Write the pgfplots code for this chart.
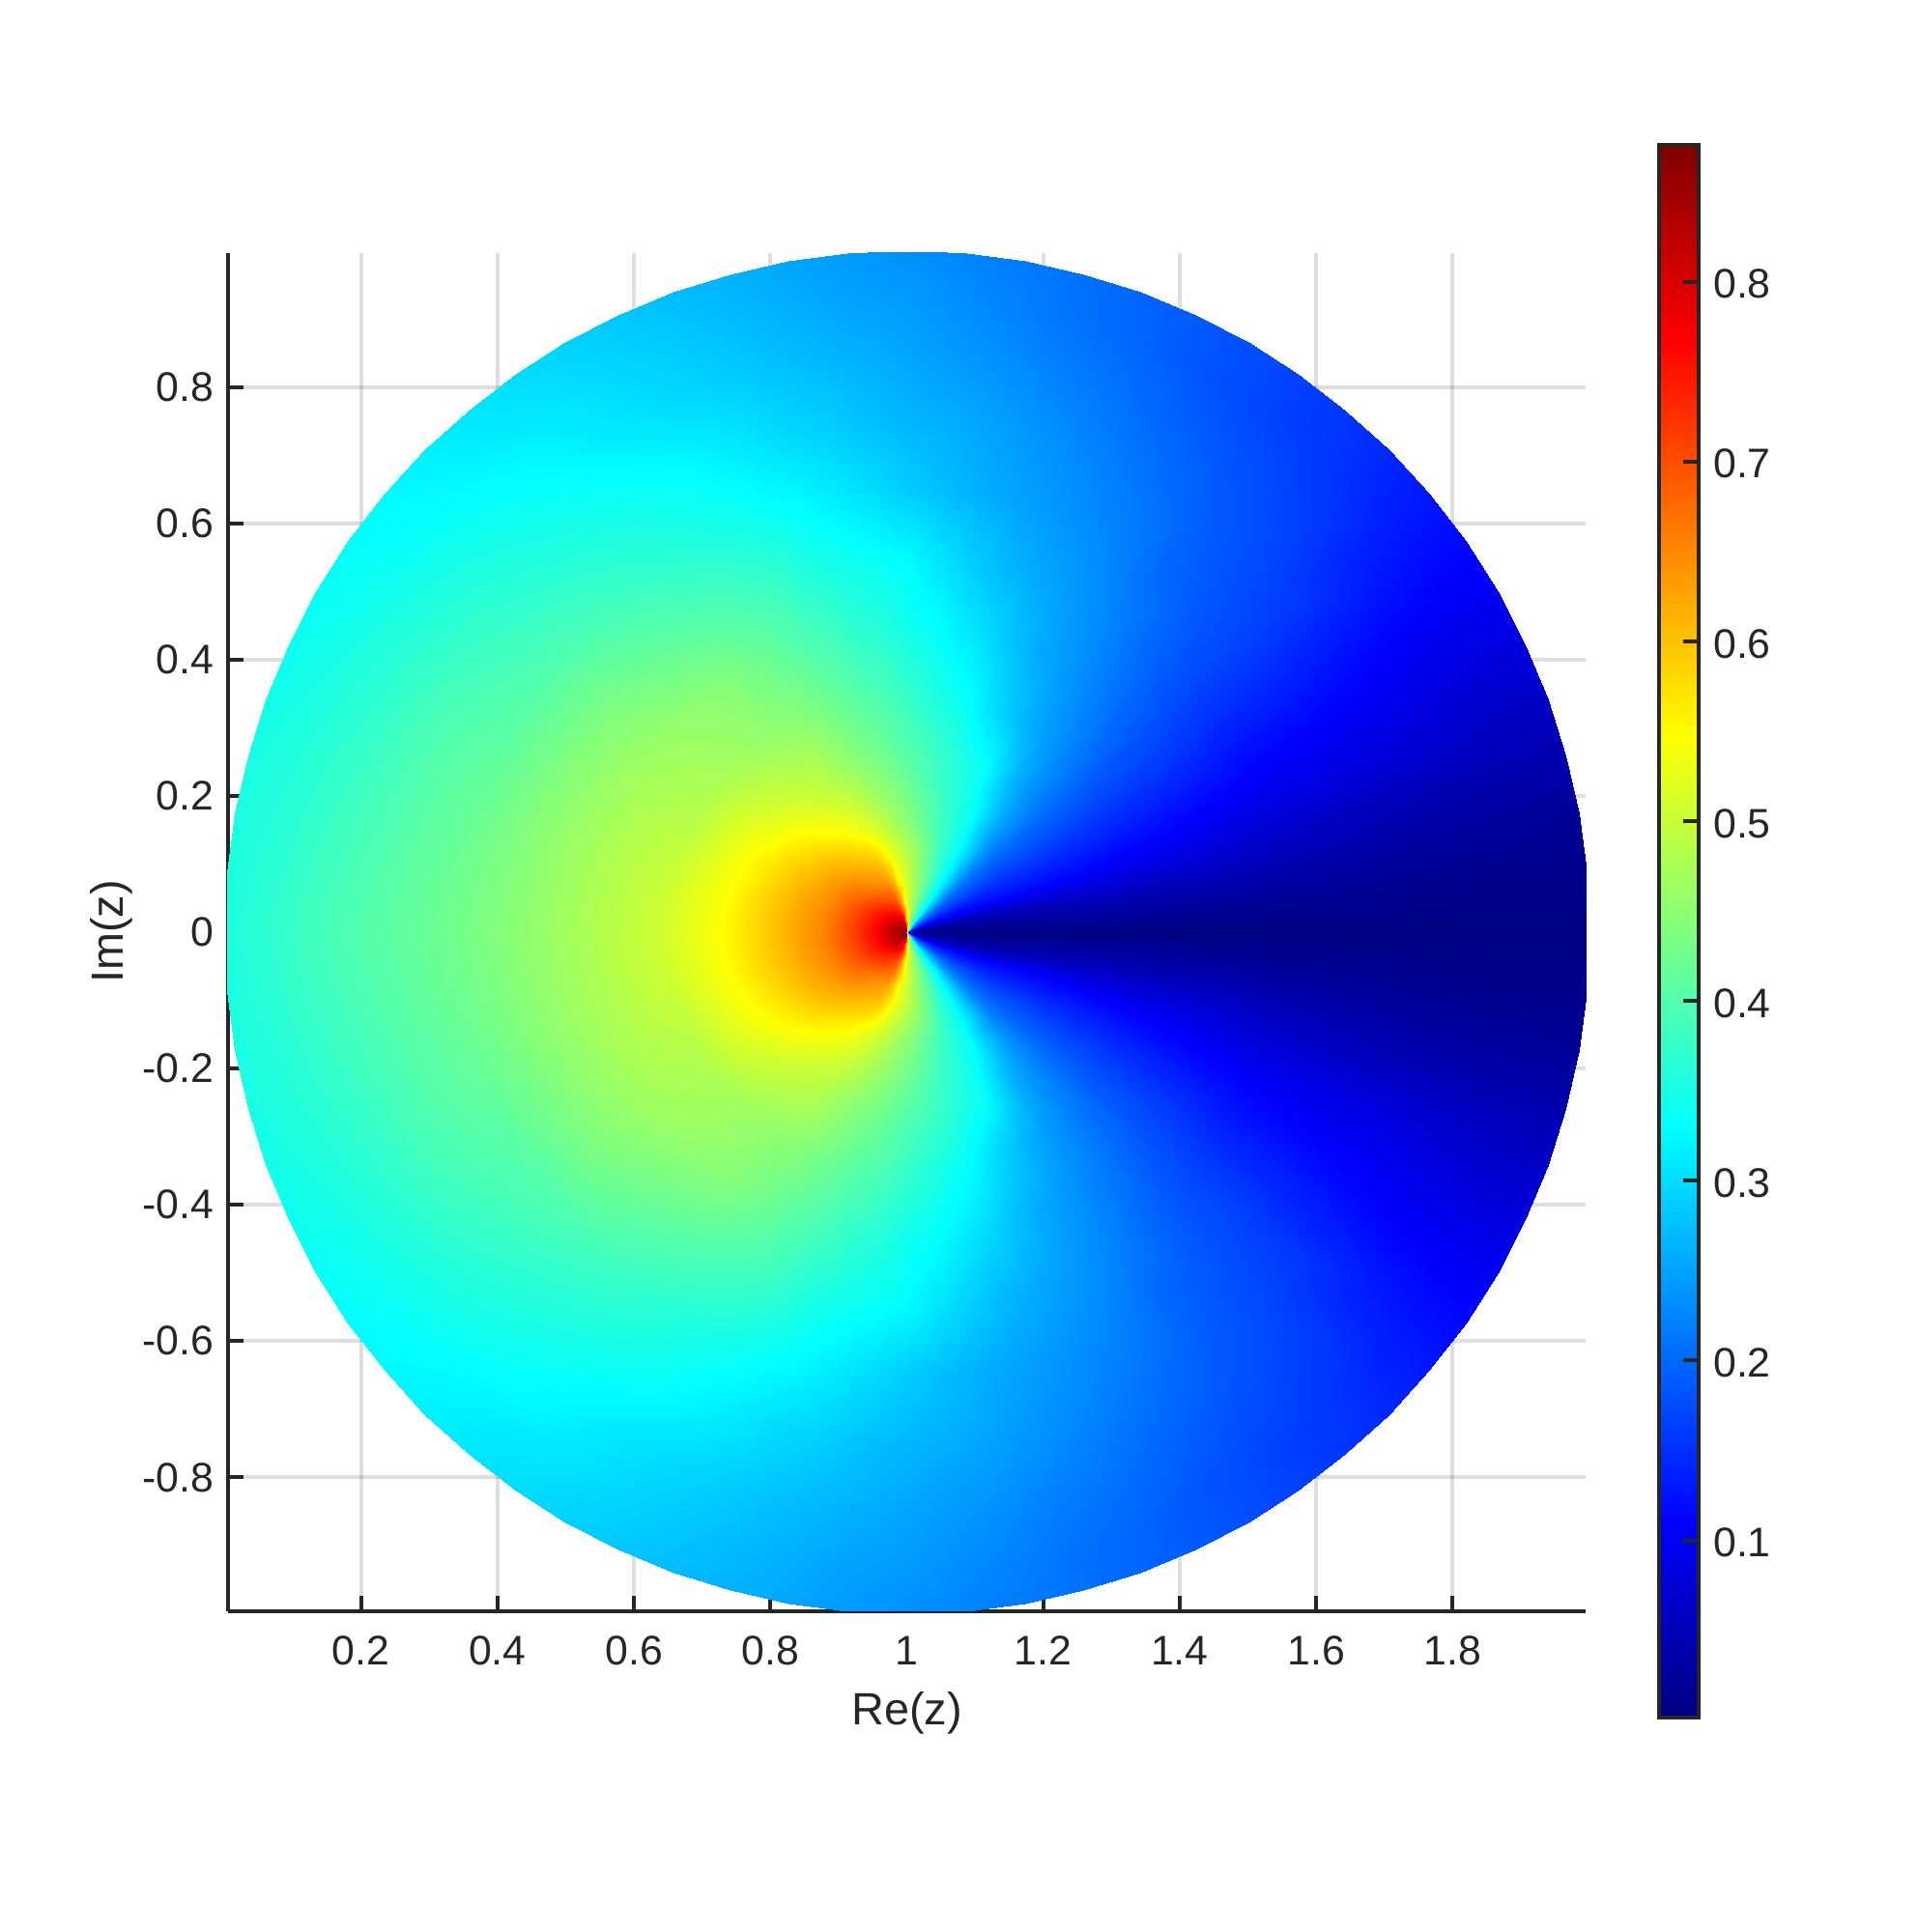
\documentclass[border=0pt]{standalone}
\usepackage{fontspec}
\setmainfont{Liberation Sans}
\usepackage{pgfplots}
\usepackage{pgfplotstable}
\pgfplotsset{compat=1.18}
\definecolor{axdark}{RGB}{38,38,38}
% values: angle about z=1, radius, colour value (upper half)
\pgfplotstableread[row sep=\\]{
t r v\\
0 .002 .002\\5 .002 .02\\10 .002 .037\\15 .002 .055\\20 .002 .083\\25 .002 .11\\30 .002 .141\\35 .002 .173\\40 .002 .207\\45 .002 .245\\50 .002 .29\\55 .002 .337\\60 .002 .375\\65 .002 .405\\70 .002 .43\\75 .002 .455\\80 .002 .48\\85 .002 .51\\90 .002 .548\\95 .002 .80\\100 .002 .835\\105 .002 .847\\110 .002 .853\\115 .002 .855\\120 .002 .856\\125 .002 .858\\130 .002 .859\\135 .002 .86\\140 .002 .861\\145 .002 .862\\150 .002 .863\\155 .002 .863\\160 .002 .864\\165 .002 .864\\170 .002 .864\\175 .002 .864\\180 .002 .864\\
0 .02 .002\\5 .02 .02\\10 .02 .037\\15 .02 .055\\20 .02 .086\\25 .02 .116\\30 .02 .145\\35 .02 .176\\40 .02 .207\\45 .02 .243\\50 .02 .28\\55 .02 .333\\60 .02 .37\\65 .02 .40\\70 .02 .425\\75 .02 .45\\80 .02 .475\\85 .02 .50\\90 .02 .535\\95 .02 .65\\100 .02 .73\\105 .02 .76\\110 .02 .78\\115 .02 .79\\120 .02 .79\\125 .02 .80\\130 .02 .81\\135 .02 .81\\140 .02 .815\\145 .02 .82\\150 .02 .82\\155 .02 .823\\160 .02 .824\\165 .02 .825\\170 .02 .826\\175 .02 .827\\180 .02 .827\\
0 .045 .002\\5 .045 .02\\10 .045 .038\\15 .045 .06\\20 .045 .093\\25 .045 .123\\30 .045 .15\\35 .045 .177\\40 .045 .206\\45 .045 .255\\50 .045 .29\\55 .045 .329\\60 .045 .36\\65 .045 .392\\70 .045 .42\\75 .045 .445\\80 .045 .467\\85 .045 .49\\90 .045 .52\\95 .045 .545\\100 .045 .632\\105 .045 .67\\110 .045 .70\\115 .045 .71\\120 .045 .72\\125 .045 .727\\130 .045 .737\\135 .045 .74\\140 .045 .747\\145 .045 .752\\150 .045 .757\\155 .045 .76\\160 .045 .76\\165 .045 .763\\170 .045 .764\\175 .045 .765\\180 .045 .765\\
0 .08 .002\\5 .08 .02\\10 .08 .038\\15 .08 .063\\20 .08 .105\\25 .08 .13\\30 .08 .153\\35 .08 .18\\40 .08 .20\\45 .08 .245\\50 .08 .286\\55 .08 .325\\60 .08 .354\\65 .08 .384\\70 .08 .41\\75 .08 .435\\80 .08 .458\\85 .08 .478\\90 .08 .503\\95 .08 .525\\100 .08 .548\\105 .08 .602\\110 .08 .63\\115 .08 .641\\120 .08 .647\\125 .08 .654\\130 .08 .662\\135 .08 .672\\140 .08 .682\\145 .08 .69\\150 .08 .696\\155 .08 .70\\160 .08 .703\\165 .08 .706\\170 .08 .708\\175 .08 .71\\180 .08 .71\\
0 .12 .002\\5 .12 .02\\10 .12 .04\\15 .12 .07\\20 .12 .112\\25 .12 .135\\30 .12 .155\\35 .12 .18\\40 .12 .203\\45 .12 .235\\50 .12 .277\\55 .12 .314\\60 .12 .345\\65 .12 .368\\70 .12 .393\\75 .12 .42\\80 .12 .445\\85 .12 .465\\90 .12 .483\\95 .12 .503\\100 .12 .522\\105 .12 .546\\110 .12 .574\\115 .12 .59\\120 .12 .60\\125 .12 .609\\130 .12 .618\\135 .12 .626\\140 .12 .634\\145 .12 .64\\150 .12 .645\\155 .12 .648\\160 .12 .65\\165 .12 .652\\170 .12 .654\\175 .12 .655\\180 .12 .655\\
0 .14 .002\\5 .14 .021\\10 .14 .042\\15 .14 .075\\20 .14 .115\\25 .14 .136\\30 .14 .156\\35 .14 .18\\40 .14 .20\\45 .14 .231\\50 .14 .273\\55 .14 .31\\60 .14 .341\\65 .14 .362\\70 .14 .384\\75 .14 .407\\80 .14 .428\\85 .14 .447\\90 .14 .465\\95 .14 .483\\100 .14 .503\\105 .14 .525\\110 .14 .548\\115 .14 .566\\120 .14 .576\\125 .14 .588\\130 .14 .597\\135 .14 .607\\140 .14 .614\\145 .14 .622\\150 .14 .628\\155 .14 .633\\160 .14 .635\\165 .14 .638\\170 .14 .64\\175 .14 .641\\180 .14 .641\\
0 .16 .002\\5 .16 .023\\10 .16 .044\\15 .16 .08\\20 .16 .118\\25 .16 .137\\30 .16 .157\\35 .16 .18\\40 .16 .20\\45 .16 .228\\50 .16 .27\\55 .16 .307\\60 .16 .337\\65 .16 .355\\70 .16 .375\\75 .16 .394\\80 .16 .412\\85 .16 .43\\90 .16 .448\\95 .16 .463\\100 .16 .485\\105 .16 .503\\110 .16 .52\\115 .16 .537\\120 .16 .553\\125 .16 .567\\130 .16 .578\\135 .16 .588\\140 .16 .597\\145 .16 .604\\150 .16 .612\\155 .16 .617\\160 .16 .619\\165 .16 .622\\170 .16 .625\\175 .16 .626\\180 .16 .626\\
0 .18 .002\\5 .18 .024\\10 .18 .045\\15 .18 .083\\20 .18 .119\\25 .18 .139\\30 .18 .159\\35 .18 .18\\40 .18 .20\\45 .18 .225\\50 .18 .254\\55 .18 .294\\60 .18 .333\\65 .18 .35\\70 .18 .366\\75 .18 .385\\80 .18 .404\\85 .18 .422\\90 .18 .439\\95 .18 .455\\100 .18 .473\\105 .18 .49\\110 .18 .507\\115 .18 .525\\120 .18 .534\\125 .18 .545\\130 .18 .558\\135 .18 .57\\140 .18 .58\\145 .18 .588\\150 .18 .596\\155 .18 .60\\160 .18 .603\\165 .18 .607\\170 .18 .609\\175 .18 .611\\180 .18 .612\\
0 .2 .002\\5 .2 .025\\10 .2 .046\\15 .2 .085\\20 .2 .12\\25 .2 .14\\30 .2 .16\\35 .2 .181\\40 .2 .20\\45 .2 .228\\50 .2 .258\\55 .2 .292\\60 .2 .329\\65 .2 .346\\70 .2 .363\\75 .2 .38\\80 .2 .395\\85 .2 .413\\90 .2 .43\\95 .2 .447\\100 .2 .46\\105 .2 .477\\110 .2 .494\\115 .2 .507\\120 .2 .52\\125 .2 .53\\130 .2 .54\\135 .2 .552\\140 .2 .562\\145 .2 .572\\150 .2 .581\\155 .2 .586\\160 .2 .589\\165 .2 .593\\170 .2 .595\\175 .2 .597\\180 .2 .597\\
0 .235 .002\\5 .235 .026\\10 .235 .048\\15 .235 .085\\20 .235 .118\\25 .235 .139\\30 .235 .158\\35 .235 .18\\40 .235 .198\\45 .235 .224\\50 .235 .25\\55 .235 .278\\60 .235 .31\\65 .235 .34\\70 .235 .355\\75 .235 .37\\80 .235 .385\\85 .235 .40\\90 .235 .415\\95 .235 .43\\100 .235 .445\\105 .235 .458\\110 .235 .474\\115 .235 .488\\120 .235 .497\\125 .235 .506\\130 .235 .517\\135 .235 .528\\140 .235 .537\\145 .235 .545\\150 .235 .554\\155 .235 .56\\160 .235 .563\\165 .235 .568\\170 .235 .571\\175 .235 .573\\180 .235 .573\\
0 .27 .002\\5 .27 .027\\10 .27 .05\\15 .27 .085\\20 .27 .117\\25 .27 .138\\30 .27 .157\\35 .27 .178\\40 .27 .197\\45 .27 .22\\50 .27 .241\\55 .27 .265\\60 .27 .30\\65 .27 .333\\70 .27 .348\\75 .27 .361\\80 .27 .375\\85 .27 .389\\90 .27 .40\\95 .27 .414\\100 .27 .43\\105 .27 .44\\110 .27 .455\\115 .27 .47\\120 .27 .485\\125 .27 .49\\130 .27 .497\\135 .27 .505\\140 .27 .515\\145 .27 .525\\150 .27 .533\\155 .27 .538\\160 .27 .541\\165 .27 .544\\170 .27 .547\\175 .27 .548\\180 .27 .549\\
0 .35 .002\\5 .35 .026\\10 .35 .05\\15 .35 .08\\20 .35 .11\\25 .35 .132\\30 .35 .152\\35 .35 .172\\40 .35 .19\\45 .35 .212\\50 .35 .23\\55 .35 .246\\60 .35 .263\\65 .35 .285\\70 .35 .307\\75 .35 .332\\80 .35 .346\\85 .35 .36\\90 .35 .375\\95 .35 .392\\100 .35 .402\\105 .35 .415\\110 .35 .428\\115 .35 .442\\120 .35 .45\\125 .35 .456\\130 .35 .462\\135 .35 .468\\140 .35 .475\\145 .35 .48\\150 .35 .485\\155 .35 .49\\160 .35 .497\\165 .35 .503\\170 .35 .507\\175 .35 .51\\180 .35 .51\\
0 .45 .002\\5 .45 .022\\10 .45 .05\\15 .45 .08\\20 .45 .103\\25 .45 .124\\30 .45 .144\\35 .45 .164\\40 .45 .18\\45 .45 .197\\50 .45 .215\\55 .45 .23\\60 .45 .245\\65 .45 .258\\70 .45 .278\\75 .45 .30\\80 .45 .315\\85 .45 .333\\90 .45 .343\\95 .45 .36\\100 .45 .37\\105 .45 .387\\110 .45 .40\\115 .45 .415\\120 .45 .428\\125 .45 .442\\130 .45 .449\\135 .45 .454\\140 .45 .46\\145 .45 .465\\150 .45 .47\\155 .45 .473\\160 .45 .476\\165 .45 .478\\170 .45 .48\\175 .45 .481\\180 .45 .482\\
0 .55 .002\\5 .55 .02\\10 .55 .042\\15 .55 .066\\20 .55 .09\\25 .55 .113\\30 .55 .13\\35 .55 .15\\40 .55 .168\\45 .55 .184\\50 .55 .20\\55 .55 .218\\60 .55 .232\\65 .55 .245\\70 .55 .257\\75 .55 .27\\80 .55 .288\\85 .55 .307\\90 .55 .326\\95 .55 .335\\100 .55 .345\\105 .55 .355\\110 .55 .373\\115 .55 .385\\120 .55 .395\\125 .55 .403\\130 .55 .412\\135 .55 .42\\140 .55 .43\\145 .55 .438\\150 .55 .441\\155 .55 .444\\160 .55 .447\\165 .55 .45\\170 .55 .451\\175 .55 .453\\180 .55 .454\\
0 .65 .002\\5 .65 .018\\10 .65 .038\\15 .65 .058\\20 .65 .085\\25 .65 .105\\30 .65 .125\\35 .65 .145\\40 .65 .165\\45 .65 .178\\50 .65 .19\\55 .65 .20\\60 .65 .218\\65 .65 .23\\70 .65 .24\\75 .65 .25\\80 .65 .26\\85 .65 .272\\90 .65 .285\\95 .65 .30\\100 .65 .314\\105 .65 .329\\110 .65 .34\\115 .65 .35\\120 .65 .36\\125 .65 .37\\130 .65 .38\\135 .65 .388\\140 .65 .395\\145 .65 .40\\150 .65 .405\\155 .65 .41\\160 .65 .415\\165 .65 .42\\170 .65 .424\\175 .65 .427\\180 .65 .43\\
0 .75 .002\\5 .75 .013\\10 .75 .03\\15 .75 .05\\20 .75 .078\\25 .75 .098\\30 .75 .116\\35 .75 .135\\40 .75 .158\\45 .75 .17\\50 .75 .182\\55 .75 .193\\60 .75 .205\\65 .75 .216\\70 .75 .227\\75 .75 .238\\80 .75 .25\\85 .75 .26\\90 .75 .267\\95 .75 .277\\100 .75 .29\\105 .75 .30\\110 .75 .314\\115 .75 .326\\120 .75 .337\\125 .75 .346\\130 .75 .355\\135 .75 .362\\140 .75 .37\\145 .75 .378\\150 .75 .386\\155 .75 .393\\160 .75 .398\\165 .75 .40\\170 .75 .404\\175 .75 .407\\180 .75 .41\\
0 .85 .002\\5 .85 .01\\10 .85 .026\\15 .85 .045\\20 .85 .068\\25 .85 .087\\30 .85 .104\\35 .85 .125\\40 .85 .14\\45 .85 .16\\50 .85 .17\\55 .85 .18\\60 .85 .19\\65 .85 .20\\70 .85 .212\\75 .85 .222\\80 .85 .233\\85 .85 .243\\90 .85 .253\\95 .85 .262\\100 .85 .271\\105 .85 .281\\110 .85 .291\\115 .85 .30\\120 .85 .31\\125 .85 .322\\130 .85 .333\\135 .85 .342\\140 .85 .35\\145 .85 .356\\150 .85 .362\\155 .85 .367\\160 .85 .372\\165 .85 .377\\170 .85 .381\\175 .85 .386\\180 .85 .39\\
0 .93 .002\\5 .93 .009\\10 .93 .024\\15 .93 .043\\20 .93 .06\\25 .93 .08\\30 .93 .10\\35 .93 .118\\40 .93 .133\\45 .93 .148\\50 .93 .16\\55 .93 .167\\60 .93 .178\\65 .93 .19\\70 .93 .20\\75 .93 .21\\80 .93 .222\\85 .93 .232\\90 .93 .244\\95 .93 .25\\100 .93 .26\\105 .93 .27\\110 .93 .28\\115 .93 .29\\120 .93 .30\\125 .93 .31\\130 .93 .317\\135 .93 .325\\140 .93 .332\\145 .93 .338\\150 .93 .344\\155 .93 .35\\160 .93 .355\\165 .93 .36\\170 .93 .363\\175 .93 .367\\180 .93 .37\\
0 1 .002\\5 1 .01\\10 1 .02\\15 1 .04\\20 1 .06\\25 1 .08\\30 1 .098\\35 1 .115\\40 1 .13\\45 1 .145\\50 1 .156\\55 1 .167\\60 1 .178\\65 1 .188\\70 1 .197\\75 1 .206\\80 1 .215\\85 1 .225\\90 1 .233\\95 1 .243\\100 1 .253\\105 1 .263\\110 1 .272\\115 1 .281\\120 1 .29\\125 1 .299\\130 1 .308\\135 1 .317\\140 1 .325\\145 1 .331\\150 1 .335\\155 1 .34\\160 1 .345\\165 1 .35\\170 1 .352\\175 1 .354\\180 1 .355\\
}\disc

\begin{document}
\begin{tikzpicture}
\path[use as bounding box] (-59pt,-83.1pt) rectangle (437pt,416.9pt);
\begin{axis}[
    at={(0pt,0pt)}, anchor=south west,
    scale only axis,
    width=351.25pt, height=351.5pt,
    xmin=0.005, xmax=1.995, ymin=-0.996, ymax=0.997,
    axis x line=bottom, axis y line=left,
    axis line style={-, axdark, line width=1pt},
    xtick={0.2,0.4,0.6,0.8,1,1.2,1.4,1.6,1.8},
    xticklabels={0.2,0.4,0.6,0.8,1,1.2,1.4,1.6,1.8},
    ytick={-0.8,-0.6,-0.4,-0.2,0,0.2,0.4,0.6,0.8},
    yticklabels={-0.8,-0.6,-0.4,-0.2,0,0.2,0.4,0.6,0.8},
    tick align=inside, major tick length=4pt,
    tick style={axdark, line width=1pt},
    grid=major, grid style={black, opacity=0.13, line width=1pt},
    tick label style={font=\fontsize{10.7pt}{12pt}\selectfont, text=axdark},
    xticklabel style={yshift=-3pt},
    yticklabel style={xshift=-0.2pt},
    every axis x label/.style={at={(axis description cs:0.5,-0.075)}, anchor=center},
    every axis y label/.style={at={(axis description cs:-0.0855,0.5)}, rotate=90, anchor=center},
    label style={font=\fontsize{11.7pt}{13pt}\selectfont, text=axdark},
    xlabel={Re(z)}, ylabel={Im(z)},
    colormap/jet,
    point meta min=0.0013, point meta max=0.876,
    colorbar,
    colorbar style={
        at={(1.054,-0.0787)}, anchor=south west,
        scale only axis,
        width=10.25pt, height=407pt,
        axis line style={axdark, line width=1pt},
        ytick={0.1,0.2,0.3,0.4,0.5,0.6,0.7,0.8},
        yticklabels={0.1,0.2,0.3,0.4,0.5,0.6,0.7,0.8},
        ytick pos=right, yticklabel pos=right,
        tick align=inside, major tick length=4pt,
        tick style={axdark, line width=1pt},
        tick label style={font=\fontsize{10.7pt}{12pt}\selectfont, text=axdark},
        yticklabel style={yshift=-0.6pt, xshift=0.3pt},
    },
]
\addplot[surf, shader=interp, mesh/cols=37, point meta=explicit] table[
    x expr=1+\thisrow{r}*cos(\thisrow{t}), y expr=\thisrow{r}*sin(\thisrow{t}), meta=v] {\disc};
\addplot[surf, shader=interp, mesh/cols=37, point meta=explicit] table[
    x expr=1+\thisrow{r}*cos(\thisrow{t}), y expr=-\thisrow{r}*sin(\thisrow{t}), meta=v] {\disc};
\end{axis}
\end{tikzpicture}
\end{document}
